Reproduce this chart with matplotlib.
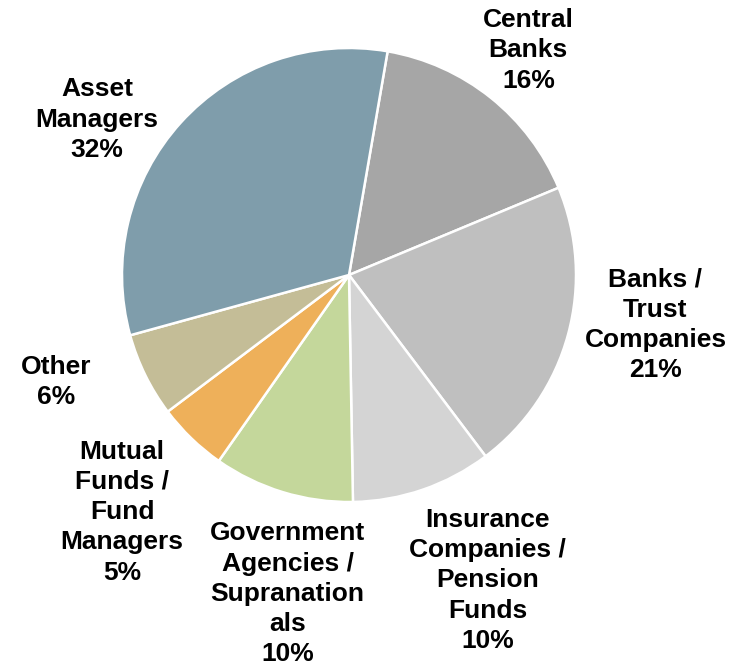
import matplotlib.pyplot as plt

# investor breakdown, clockwise from the top
labels = ['Central\nBanks', 'Banks /\nTrust\nCompanies', 'Insurance\nCompanies /\nPension\nFunds',
          'Government\nAgencies /\nSupranation\nals', 'Mutual\nFunds /\nFund\nManagers',
          'Other', 'Asset\nManagers']
shares = [16, 21, 10, 10, 5, 6, 32]
colors = ['#a6a6a6', '#bfbfbf', '#d4d4d4', '#c4d79b', '#eeb05a', '#c4bd97', '#7f9dab']

# label centres in data units (pie radius = 1)
label_xy = [(0.79, 0.99), (1.35, -0.22), (0.61, -1.345),
            (-0.27, -1.405), (-1.00, -1.045), (-1.29, -0.47), (-1.11, 0.685)]

fig = plt.figure(figsize=(7.42, 6.65), dpi=100)
ax = fig.add_axes([0, 0, 1, 1])
R = 227.0
cx, cy = 349.0, 275.0

ax.pie(shares, colors=colors, startangle=80.2, counterclock=False,
       radius=1, center=(0, 0),
       wedgeprops=dict(edgecolor='white', linewidth=1.8))
ax.set_xlim(-cx / R, (742 - cx) / R)
ax.set_ylim((cy - 665) / R, cy / R)
ax.set_aspect('equal', adjustable='datalim')
ax.axis('off')

for lab, val, (x, y) in zip(labels, shares, label_xy):
    ax.text(x, y, f'{lab}\n{val}%', ha='center', va='center', fontsize=19,
            fontweight='bold', family='Liberation Sans', linespacing=1.33)

fig.savefig('out.png', dpi=100)
